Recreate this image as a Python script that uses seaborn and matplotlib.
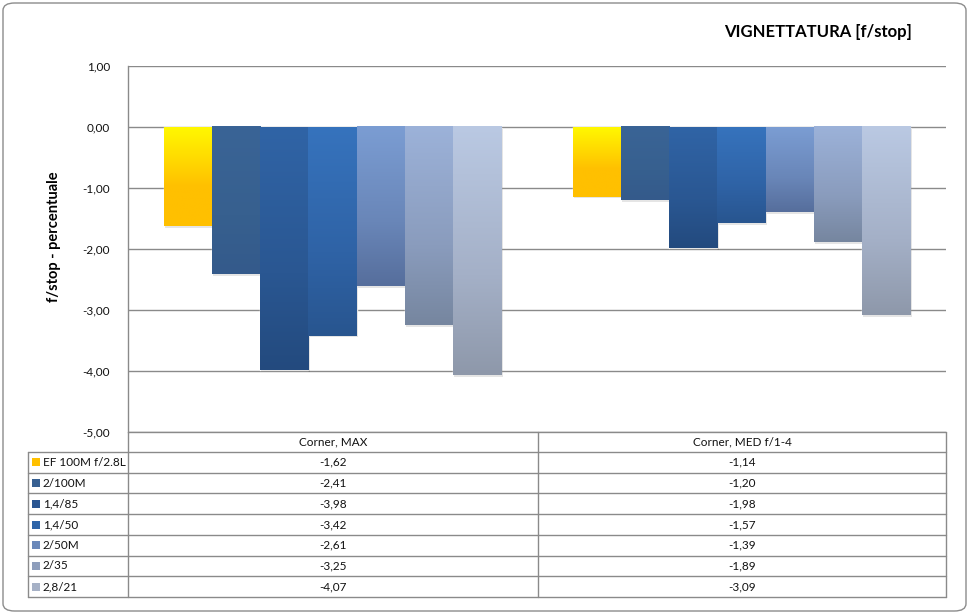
import numpy as np
import pandas as pd
import matplotlib
matplotlib.use("Agg")
import matplotlib.pyplot as plt
import seaborn as sns
from matplotlib.colors import LinearSegmentedColormap
from matplotlib.patches import FancyBboxPatch, Rectangle
from matplotlib.ticker import FuncFormatter

# ---- data ----
categories = ["Corner, MAX", "Corner, MED f/1-4"]
series = ["EF 100M f/2.8L", "2/100M", "1,4/85", "1,4/50", "2/50M", "2/35", "2,8/21"]
corner_max = [-1.62, -2.41, -3.98, -3.42, -2.61, -3.25, -4.07]
corner_med = [-1.14, -1.20, -1.98, -1.57, -1.39, -1.89, -3.09]
yticks = [1, 0, -1, -2, -3, -4, -5]
title = "VIGNETTATURA [f/stop]"
ylabel = "f/stop - percentuale"

# gradient colours (top, mid, bottom) per series
grad = [
    ("#FFF800", "#FFC000", "#FFC000"),
    ("#3A6496", "#37608F", "#345A8B"),
    ("#3064A6", "#2A5792", "#234A7E"),
    ("#3673BD", "#2F63A6", "#28558F"),
    ("#7B9DD3", "#6986B8", "#566E9C"),
    ("#9CB2D9", "#8A9CBD", "#76869F"),
    ("#BAC9E3", "#A4B0C7", "#8E98AA"),
]
key_colors = ["#FFC000", "#376092", "#2A5692", "#2E64A8", "#6A88BA", "#8E9EBC", "#A6B1C6"]

df = pd.DataFrame({
    "cat": np.repeat(categories, len(series)),
    "series": series * len(categories),
    "val": corner_max + corner_med,
})

def fmt(v):
    return f"{v:.2f}".replace(".", ",")

sns.set_theme(style="white")
plt.rcParams["font.family"] = ["Lato", "DejaVu Sans"]

W, H = 970, 615
fig = plt.figure(figsize=(W / 100, H / 100), dpi=100)
fig.patch.set_facecolor("white")

def fx(px):
    return px / W

def fy(py):
    return 1 - py / H

# outer rounded border
fig.patches.append(FancyBboxPatch((fx(3), fy(611)), fx(963), 608 / H,
                                  boxstyle="round,pad=0,rounding_size=0.012",
                                  transform=fig.transFigure, fill=False,
                                  edgecolor="#8C8C8C", linewidth=1.0))

ax = fig.add_axes([fx(128), fy(432), fx(946) - fx(128), (432 - 66) / H])
sns.barplot(data=df, x="cat", y="val", hue="series", order=categories,
            hue_order=series, palette=key_colors, width=0.826, gap=0,
            legend=False, ax=ax, saturation=1)
ax.set_xlim(-0.5, 1.5)
ax.set_ylim(-5, 1)
ax.set_yticks(yticks)
ax.yaxis.set_major_formatter(FuncFormatter(lambda v, p: fmt(v)))
ax.tick_params(axis="y", length=0, pad=13, labelsize=8.5, colors="#111111")
ax.set_xticks([])
ax.set_xlabel("")
ax.set_ylabel("")
for s in ["top", "right", "bottom"]:
    ax.spines[s].set_visible(False)
ax.spines["left"].set_color("#8A8A8A")
ax.spines["left"].set_linewidth(1.0)
ax.grid(axis="y", color="#8A8A8A", linewidth=1.0)
ax.set_axisbelow(True)

# gradient fill over the seaborn bars
for i, cont in enumerate(ax.containers):
    cmap = LinearSegmentedColormap.from_list(f"g{i}", [(0, grad[i][0]), (0.6, grad[i][1]), (1, grad[i][2])])
    for bar in cont:
        x0 = bar.get_x()
        w = bar.get_width()
        y0 = bar.get_y()
        h = bar.get_height()
        ylo, yhi = min(y0, y0 + h), max(y0, y0 + h)
        # soft shadow
        ax.add_patch(Rectangle((x0 + 0.003, ylo - 0.03), w, yhi - ylo,
                               facecolor="#000000", alpha=0.10, edgecolor="none", zorder=2))
        g = np.linspace(0, 1, 256).reshape(-1, 1)
        ax.imshow(g, cmap=cmap, extent=[x0, x0 + w, ylo, yhi], origin="upper",
                  aspect="auto", zorder=3, interpolation="bilinear")
        bar.set_zorder(1)
ax.set_xlim(-0.5, 1.5)
ax.set_ylim(-5, 1)

# title and y label
fig.text(fx(818), fy(32), title, ha="center", va="center", fontsize=12, fontweight="bold", color="#000000")
fig.text(fx(54), fy(237), ylabel, ha="center", va="center", rotation=90, fontsize=10.5, fontweight="bold", color="#000000")

# data table
tab = fig.add_axes([0, 0, 1, 1], facecolor="none")
tab.set_xlim(0, W)
tab.set_ylim(H, 0)
tab.axis("off")
lc = "#8A8A8A"
x_left, x_lab, x_div, x_right = 28, 128, 538, 946
y_head, y_rows, y_bot = 432, 452, 597
rh = (y_bot - y_rows) / len(series)
# horizontal lines
tab.plot([x_lab, x_right], [y_head, y_head], color=lc, lw=1)
for r in range(len(series) + 1):
    yy = y_rows + r * rh
    tab.plot([x_left, x_right], [yy, yy], color=lc, lw=1)
# vertical lines
tab.plot([x_left, x_left], [y_rows, y_bot], color=lc, lw=1)
for xx in [x_lab, x_div, x_right]:
    tab.plot([xx, xx], [y_head, y_bot], color=lc, lw=1)
# header
centers = [(x_lab + x_div) / 2, (x_div + x_right) / 2]
for c, name in zip(centers, categories):
    tab.text(c, (y_head + y_rows) / 2, name, ha="center", va="center", fontsize=8.5, color="#111111")
cols = [corner_max, corner_med]
for r, name in enumerate(series):
    yc = y_rows + (r + 0.5) * rh
    tab.add_patch(Rectangle((x_left + 4, yc - 4), 8, 8, facecolor=key_colors[r], edgecolor="none"))
    tab.text(x_left + 15, yc, name, ha="left", va="center", fontsize=8.5, color="#111111")
    for c, col in zip(centers, cols):
        tab.text(c, yc, fmt(col[r]), ha="center", va="center", fontsize=8.5, color="#111111")

fig.savefig("out.png", dpi=100, facecolor="white")
